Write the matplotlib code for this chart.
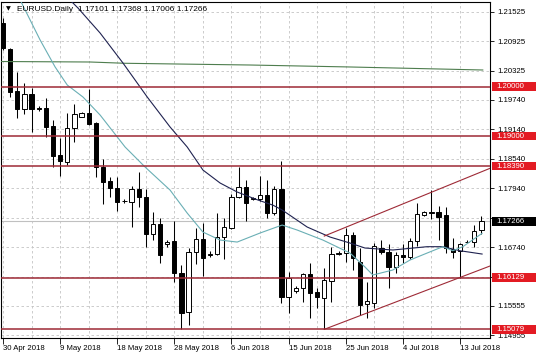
import matplotlib
matplotlib.use("Agg")
import matplotlib.pyplot as plt
from matplotlib.patches import Rectangle
import numpy as np

plt.rcParams['font.family'] = ['Liberation Sans', 'DejaVu Sans']

# ---- daily candles (includes short Sunday bars) ----
opens = [1.21292, 1.20770, 1.19919, 1.19542, 1.19846, 1.19560, 1.19574, 1.19203, 1.18615, 1.18467,
         1.19156, 1.19392, 1.19460, 1.19258, 1.18377, 1.18093, 1.17939, 1.17680, 1.17667, 1.17919,
         1.17769, 1.17006, 1.17209, 1.16810, 1.16870, 1.16227, 1.15436, 1.16653, 1.16905, 1.16590,
         1.16600, 1.16957, 1.17128, 1.17769, 1.17960, 1.17720, 1.17716, 1.17803, 1.17432, 1.17919,
         1.15728, 1.15860, 1.15923, 1.16201, 1.15830, 1.15708, 1.16060, 1.16610, 1.16621, 1.16992,
         1.16450, 1.15592, 1.15606, 1.16730, 1.16653, 1.16337, 1.16586, 1.16540, 1.16876, 1.17400,
         1.17430, 1.17465, 1.17404, 1.16708, 1.16673, 1.16850, 1.16856, 1.17101]
highs = [1.21393, 1.20790, 1.20304, 1.20069, 1.19968, 1.19608, 1.19765, 1.19325, 1.18953, 1.19460,
         1.19649, 1.19480, 1.19947, 1.19290, 1.18527, 1.18174, 1.18162, 1.17720, 1.17986, 1.18276,
         1.17919, 1.17465, 1.17330, 1.16890, 1.17276, 1.16383, 1.16722, 1.17140, 1.17229, 1.16660,
         1.17432, 1.17330, 1.17817, 1.18377, 1.18108, 1.17770, 1.18189, 1.18108, 1.17986, 1.18499,
         1.16247, 1.15957, 1.16220, 1.16430, 1.15911, 1.16317, 1.16755, 1.16660, 1.17128, 1.17059,
         1.16722, 1.16030, 1.16823, 1.16890, 1.16809, 1.16653, 1.16809, 1.16925, 1.17647, 1.17480,
         1.17905, 1.17580, 1.17566, 1.16925, 1.16836, 1.16890, 1.17195, 1.17368]
lows = [1.20744, 1.19797, 1.19359, 1.19446, 1.19087, 1.19513, 1.18986, 1.18377, 1.18195, 1.18412,
        1.18884, 1.19380, 1.19220, 1.18174, 1.17621, 1.17757, 1.17479, 1.17650, 1.17160, 1.17554,
        1.16742, 1.16891, 1.16430, 1.16755, 1.16045, 1.15079, 1.15166, 1.16398, 1.16160, 1.16540,
        1.16580, 1.16499, 1.17110, 1.17736, 1.17282, 1.17700, 1.17690, 1.17330, 1.17398, 1.15619,
        1.15416, 1.15822, 1.15639, 1.15302, 1.15505, 1.15079, 1.15640, 1.16590, 1.16450, 1.16282,
        1.15370, 1.15300, 1.15505, 1.16606, 1.15911, 1.16215, 1.16418, 1.16500, 1.16769, 1.17380,
        1.17310, 1.16890, 1.16633, 1.16525, 1.16129, 1.16820, 1.16755, 1.17006]
closes = [1.20785, 1.19899, 1.19542, 1.19846, 1.19542, 1.19540, 1.19189, 1.18600, 1.18493, 1.19156,
          1.19440, 1.19460, 1.19243, 1.18377, 1.18073, 1.17939, 1.17667, 1.17690, 1.17919, 1.17769,
          1.17006, 1.17209, 1.16586, 1.16860, 1.16227, 1.15416, 1.16653, 1.16905, 1.16531, 1.16610,
          1.16957, 1.17160, 1.17769, 1.17972, 1.17635, 1.17740, 1.17803, 1.17432, 1.17919, 1.15728,
          1.16114, 1.15920, 1.16201, 1.15822, 1.15728, 1.16079, 1.16600, 1.16630, 1.16992, 1.16519,
          1.15572, 1.15653, 1.16769, 1.16650, 1.16337, 1.16586, 1.16540, 1.16876, 1.17412, 1.17450,
          1.17460, 1.17363, 1.16722, 1.16653, 1.16803, 1.16860, 1.17079, 1.17266]

date_tick_bars = [0, 8, 16, 24, 32, 40, 48, 56, 64]
date_tick_labels = ["30 Apr 2018", "9 May 2018", "18 May 2018", "28 May 2018", "6 Jun 2018",
                    "15 Jun 2018", "25 Jun 2018", "4 Jul 2018", "13 Jul 2018"]

price_ticks = [1.21525, 1.20925, 1.20325, 1.19740, 1.19140, 1.18540, 1.17940,
               1.17340, 1.16740, 1.16140, 1.15555, 1.14955]
hidden_price_ticks = [1.17340]   # covered by the current-price box

# ---- moving averages (read at sample bars) ----
fast_ma_bars = [1.7, 2.4, 5.2, 7.3, 9.0, 11.2, 13.6, 17.1, 19.9, 23.4, 25.8, 28.0, 30.4, 32.8,
                36.0, 39.1, 41.2, 44.8, 48.6, 50.7, 51.8, 54.6, 57.0, 59.4, 61.6, 63.0, 64.4, 67.1]
fast_ma_vals = [1.21920, 1.21759, 1.20947, 1.20400, 1.20034, 1.19791, 1.19426, 1.18777, 1.18371,
                1.17903, 1.17437, 1.17052, 1.16890, 1.16849, 1.17032, 1.17194, 1.17093, 1.16890,
                1.16626, 1.16343, 1.16181, 1.16282, 1.16484, 1.16626, 1.16755, 1.16673, 1.16755,
                1.17026]
slow_ma_bars = [8.96, 10.5, 13.6, 16.8, 20.2, 23.4, 25.8, 28.0, 30.4, 32.8, 35.6, 37.8, 39.1,
                42.6, 45.8, 48.6, 50.7, 54.6, 59.4, 61.6, 64.0, 67.1]
slow_ma_vals = [1.21820, 1.21596, 1.21089, 1.20481, 1.19791, 1.19183, 1.18777, 1.18310, 1.18047,
                1.17864, 1.17707, 1.17598, 1.17499, 1.17154, 1.16951, 1.16829, 1.16728, 1.16688,
                1.16755, 1.16755, 1.16673, 1.16606]
long_ma_bars = [-0.4, 12.2, 17.1, 34.6, 48.6, 67.2]
long_ma_vals = [1.20511, 1.20501, 1.20475, 1.20440, 1.20400, 1.20339]

# ---- horizontal levels and channel ----
levels = [1.20000, 1.19000, 1.18390, 1.16129, 1.15079]
bid_price = 1.17266
channel_lower_bars = [45, 68.3]
channel_lower_vals = [1.15079, 1.16368]
channel_upper_bars = [45, 68.3]
channel_upper_vals = [1.16971, 1.18350]

LEVEL_COL = '#9E2A36'
FS = 5.6

fig = plt.figure(figsize=(5.36, 3.57), dpi=100)
fig.patch.set_facecolor('white')
ax = fig.add_axes([1 / 536, 1 - 338 / 357, 489 / 536, 336 / 357])
ax.set_facecolor('white')
ax.set_xlim(-0.28, 68.21)
ax.set_ylim(1.14903, 1.21718)

# grid / ticks
ax.set_xticks(date_tick_bars)
ax.set_xticks(list(range(0, 68, 4)), minor=True)
ax.set_xticklabels(date_tick_labels, fontsize=FS, ha='left')
ax.set_yticks(price_ticks)
ax.set_yticklabels(["" if p in hidden_price_ticks else f"{p:.5f}" for p in price_ticks], fontsize=FS)
ax.yaxis.tick_right()
ax.tick_params(axis='y', which='both', length=3, pad=2, width=0.6)
ax.tick_params(axis='x', which='major', length=4, pad=1, width=0.6)
ax.tick_params(axis='x', which='minor', length=0)
for lab in ax.get_xticklabels():
    lab.set_horizontalalignment('left')
ax.grid(True, which='both', axis='x', color='#C4C4C4', linestyle=(0, (3, 3)), linewidth=0.6, zorder=0)
ax.grid(True, which='major', axis='y', color='#C4C4C4', linestyle=(0, (3, 3)), linewidth=0.6, zorder=0)
ax.set_axisbelow(True)
for s in ax.spines.values():
    s.set_color('black')
    s.set_linewidth(0.8)

# bid line
ax.axhline(bid_price, color='#C0C0C0', lw=0.8, zorder=1)

# candles
x = np.arange(len(opens))
o = np.array(opens); h = np.array(highs); l = np.array(lows); c = np.array(closes)
up = c >= o
ax.vlines(x, l, h, color='black', lw=0.75, zorder=3)
bottom = np.minimum(o, c)
height = np.maximum(np.abs(c - o), 0.00007)
ax.bar(x[up], height[up], bottom=bottom[up], width=0.6, facecolor='white',
       edgecolor='black', linewidth=0.7, zorder=4)
ax.bar(x[~up], height[~up], bottom=bottom[~up], width=0.6, facecolor='black',
       edgecolor='black', linewidth=0.7, zorder=4)

# moving averages
ax.plot(long_ma_bars, long_ma_vals, color='#4E7D4E', lw=0.8, zorder=5)
ax.plot(slow_ma_bars, slow_ma_vals, color='#1F2250', lw=0.8, zorder=5)
ax.plot(fast_ma_bars, fast_ma_vals, color='#6AAFB5', lw=0.8, zorder=5)

# levels and channel
for lv in levels:
    ax.axhline(lv, color=LEVEL_COL, lw=1.1, zorder=6)
ax.plot(channel_lower_bars, channel_lower_vals, color=LEVEL_COL, lw=0.8, zorder=6)
ax.plot(channel_upper_bars, channel_upper_vals, color=LEVEL_COL, lw=0.8, zorder=6)

# price labels on right axis
ytr = ax.get_yaxis_transform()
box_h = 0.00172
def price_box(p, col):
    ax.add_patch(Rectangle((1.0045, p - box_h / 2), 0.1, box_h, transform=ytr,
                           facecolor=col, edgecolor='none', clip_on=False, zorder=10))
    ax.text(1.012, p, f"{p:.5f}", transform=ytr, color='white', fontsize=FS,
            va='center', ha='left', clip_on=False, zorder=11)
for lv in levels:
    price_box(lv, '#E31B23')
price_box(bid_price, 'black')

# title
ax.text(0.0095, 0.979, "\u25BC", transform=ax.transAxes, fontsize=4.5, va='center',
        ha='left', family=['DejaVu Sans'], zorder=12)
ax.text(0.0327, 0.979, "EURUSD.Daily  1.17101 1.17368 1.17006 1.17266",
        transform=ax.transAxes, fontsize=6, va='center', ha='left', zorder=12)

fig.savefig("out.png", dpi=100, facecolor='white')
